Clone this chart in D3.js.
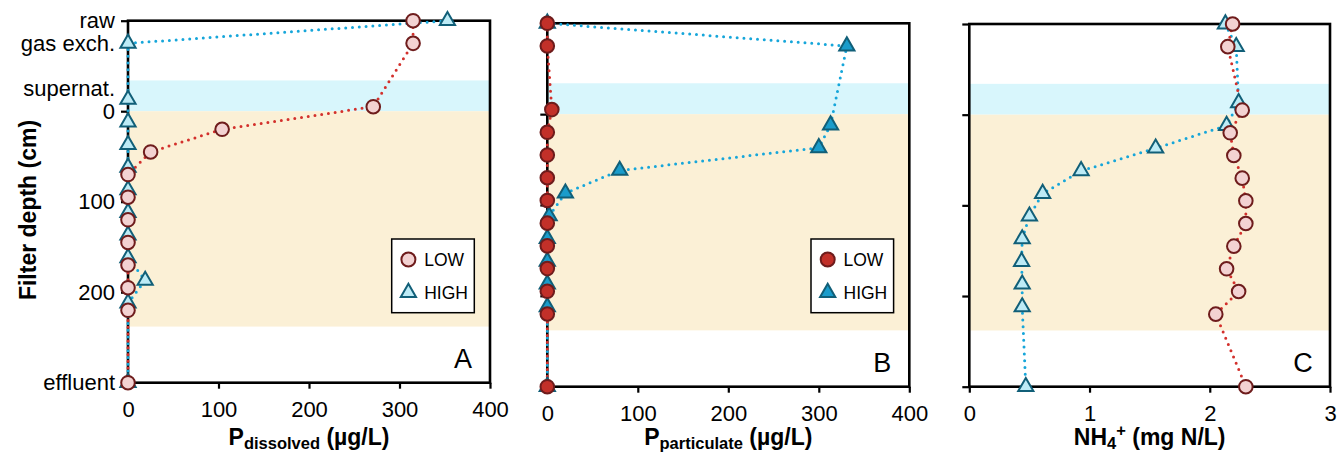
<!DOCTYPE html>
<html><head><meta charset="utf-8">
<script src="https://cdn.jsdelivr.net/npm/d3@7"></script>
<style>
body{margin:0;background:#fff}
text{font-family:"Liberation Sans",Arial,Helvetica,sans-serif}
</style>
</head><body>
<svg id="chart" width="1338" height="454"></svg>
<script>
// ---- data ----
const categories = ["raw","gas exch.","supernat.","filter","effluent"];
const lowDepth  = [-100,-75,-5,20,45,70,95,120,145,170,195,220,300];
const highDepth = [-100,-75,-13,12,37,62,87,112,137,162,187,212,300];
const pDissLow  = [315,315,271,104,25,0,0,0,0,0,0,0,0];
const pDissHigh = [353,0,0,0,0,0,0,0,0,0,19,0,0];
const pPartLow  = [0,0,5,0,0,0,0,0,0,0,0,0,0];
const pPartHigh = [0,331,null,313,300,80,20,2,0,0,0,0,0];
const nh4Low    = [2.19,2.15,2.27,2.17,2.20,2.27,2.30,2.30,2.20,2.14,2.24,2.05,2.30];
const nh4High   = [2.13,2.22,2.24,2.14,1.55,0.93,0.61,0.50,0.44,0.435,0.44,0.44,0.47];
const yTickValues = [-100,-75,-25,0,100,200,300];
const yTickLabels = ["raw","gas exch.","supernat.","0","100","200","effluent"];
const yTickMarks = [-100,0,100,200,300];
const pTicks = [0,100,200,300,400];
const nTicks = [0,1,2,3];
const supernatBand = [-34,0];
const filterBand = [0,238];
const seriesNames = ["LOW","HIGH"];

const svg = d3.select("#chart");
const darkRed = "#6e1c1c", darkBlue = "#115f78";
const redLine = "#d3302c", blueLine = "#16a6da";

const panels = [
  {x0:128, x1:490, y0:20.7, y1:382.7, dom:[0,400], ticks:pTicks, low:pDissLow, high:pDissHigh,
   lowFill:"#f3d2d2", highFill:"#bdebf6", letter:"A", legend:true, yLabels:true,
   title:[["P",23,0],["dissolved",16.5,4],[" (µg/L)",23,-4]]},
  {x0:547.3, x1:909.3, y0:23.3, y1:386.7, dom:[0,400], ticks:pTicks, low:pPartLow, high:pPartHigh,
   lowFill:"#c23029", highFill:"#1a9ccb", letter:"B", legend:true, yLabels:false,
   title:[["P",23,0],["particulate",16.5,4],[" (µg/L)",23,-4]]},
  {x0:969.3, x1:1330, y0:24, y1:386.7, dom:[0,3], ticks:nTicks, low:nh4Low, high:nh4High,
   lowFill:"#f3d2d2", highFill:"#bdebf6", letter:"C", legend:false, yLabels:false,
   title:[["NH",23,0],["4",16.5,4],["+",16.5,-13],[" (mg N/L)",23,9]]}
];

const tri = d3.symbol().type(d3.symbolTriangle).size(100);

panels.forEach(p => {
  const x = d3.scaleLinear().domain(p.dom).range([p.x0,p.x1]);
  const y = d3.scaleLinear().domain([-100,300]).range([p.y0,p.y1]);
  const g = svg.append("g");
  // bands
  g.append("rect").attr("x",p.x0).attr("width",p.x1-p.x0)
    .attr("y",y(supernatBand[0])).attr("height",y(supernatBand[1])-y(supernatBand[0])).attr("fill","#d8f6fc");
  g.append("rect").attr("x",p.x0).attr("width",p.x1-p.x0)
    .attr("y",y(filterBand[0])).attr("height",y(filterBand[1])-y(filterBand[0])).attr("fill","#fbf0d6");

  // y axis
  const ya = g.append("g").attr("transform",`translate(${p.x0},0)`)
    .call(d3.axisLeft(y).tickValues(yTickValues).tickSize(7).tickPadding(6)
      .tickFormat((d,i)=> p.yLabels ? yTickLabels[i] : ""));
  ya.select(".domain").remove();
  ya.selectAll(".tick line").attr("stroke","#000").attr("stroke-width",2.2)
    .attr("display", d => yTickMarks.includes(d) ? null : "none");
  ya.selectAll(".tick text").attr("font-size",22).attr("fill","#000").attr("font-family",'"Liberation Sans",Arial,sans-serif');

  // x axis
  const xa = g.append("g").attr("transform",`translate(0,${p.y1})`)
    .call(d3.axisBottom(x).tickValues(p.ticks).tickSize(6).tickPadding(13).tickFormat(d3.format("d")));
  xa.select(".domain").remove();
  xa.selectAll(".tick line").attr("stroke","#000").attr("stroke-width",2.2);
  xa.selectAll(".tick text").attr("font-size",22).attr("fill","#000").attr("font-family",'"Liberation Sans",Arial,sans-serif');

  // frame
  g.append("rect").attr("x",p.x0).attr("y",p.y0).attr("width",p.x1-p.x0).attr("height",p.y1-p.y0)
    .attr("fill","none").attr("stroke","#000").attr("stroke-width",2.6);

  // lines
  const mk = (vals,depths) => vals.map((v,i)=>({v, d:depths[i]})).filter(o=>o.v!==null);
  const hi = mk(p.high, highDepth), lo = mk(p.low, lowDepth);
  const line = d3.line().x(o=>x(o.v)).y(o=>y(o.d));
  g.append("path").datum(hi).attr("d",line).attr("fill","none").attr("stroke",blueLine)
    .attr("stroke-width",3).attr("stroke-linecap","round").attr("stroke-dasharray","0,6.8");
  g.append("path").datum(lo).attr("d",line).attr("fill","none").attr("stroke",redLine)
    .attr("stroke-width",3).attr("stroke-linecap","round").attr("stroke-dasharray","0,6.8");

  // markers
  g.selectAll(".hi").data(hi).join("path").attr("d",tri)
    .attr("transform",o=>`translate(${x(o.v)},${y(o.d)})`)
    .attr("fill",p.highFill).attr("stroke",darkBlue).attr("stroke-width",2);
  g.selectAll(".lo").data(lo).join("circle").attr("cx",o=>x(o.v)).attr("cy",o=>y(o.d)).attr("r",6.8)
    .attr("fill",p.lowFill).attr("stroke",darkRed).attr("stroke-width",2);

  // panel letter
  g.append("text").attr("x",p.x1-27).attr("y",p.y1-15).attr("text-anchor","middle")
    .attr("font-size",27).text(p.letter);

  // legend
  if (p.legend) {
    const lx = p.x1-98.3, ly = 239;
    const lg = g.append("g").attr("transform",`translate(${lx},${ly})`);
    lg.append("rect").attr("width",82.6).attr("height",73.7).attr("fill","#fff").attr("stroke","#000").attr("stroke-width",1.5);
    lg.append("circle").attr("cx",16.7).attr("cy",20.5).attr("r",7).attr("fill",p.lowFill).attr("stroke",darkRed).attr("stroke-width",2);
    lg.append("path").attr("d",tri).attr("transform","translate(16.7,53.5)").attr("fill",p.highFill).attr("stroke",darkBlue).attr("stroke-width",2);
    lg.append("text").attr("x",32.5).attr("y",27.2).attr("font-size",17.5).text(seriesNames[0]);
    lg.append("text").attr("x",32.5).attr("y",60).attr("font-size",17.5).text(seriesNames[1]);
  }

  // x title
  const t = g.append("text").attr("x",(p.x0+p.x1)/2).attr("y",445).attr("text-anchor","middle")
    .attr("font-weight","bold");
  p.title.forEach(([s,fs,dy]) => t.append("tspan").attr("font-size",fs).attr("dy",dy).text(s));
});

// y title
svg.append("text").attr("transform","translate(36,210) rotate(-90)").attr("text-anchor","middle")
  .attr("font-weight","bold").attr("font-size",23).text("Filter depth (cm)");
</script>
</body></html>
